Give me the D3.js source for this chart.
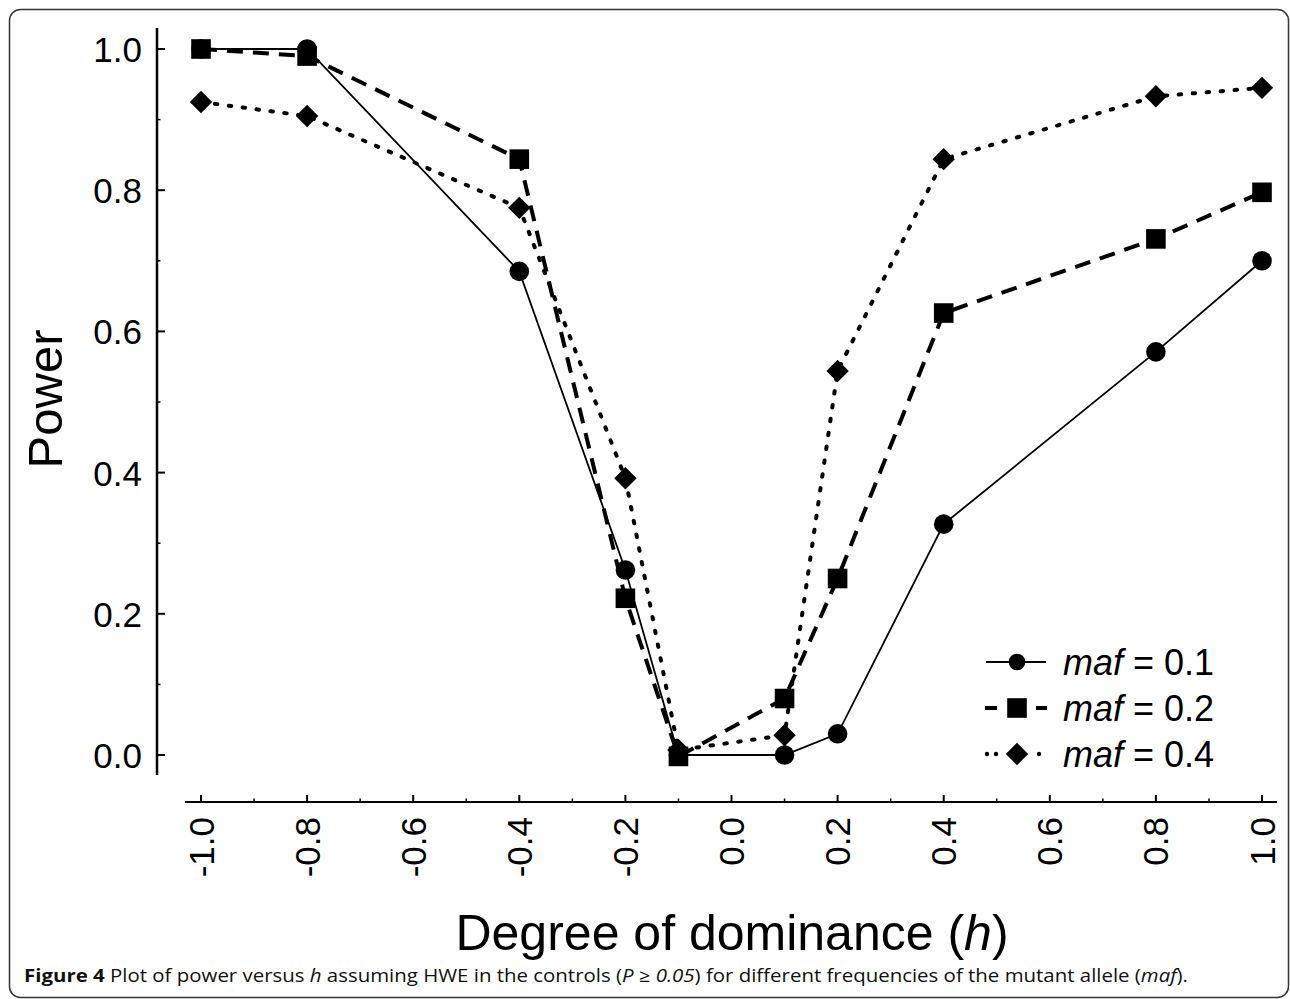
<!DOCTYPE html>
<html>
<head>
<meta charset="utf-8">
<script src="https://cdn.jsdelivr.net/npm/d3@7"></script>
<style>
  body { margin: 0; background: #fff; }
  svg { display: block; }
</style>
</head>
<body>
<div id="chart-area"></div>
<script>
// h values on the x axis
var hValues = [-1.0, -0.8, -0.4, -0.2, -0.1, 0.1, 0.2, 0.4, 0.8, 1.0];

// power for each minor allele frequency
var maf01 = [1.0, 1.0, 0.685, 0.262, 0.0, 0.0, 0.03, 0.327, 0.571, 0.70];
var maf02 = [1.0, 0.99, 0.844, 0.222, -0.002, 0.08, 0.25, 0.626, 0.731, 0.797];
var maf04 = [0.925, 0.905, 0.775, 0.392, 0.007, 0.028, 0.544, 0.844, 0.933, 0.945];

var seriesNames = ["0.1", "0.2", "0.4"];
var xTicks = [-1.0, -0.8, -0.6, -0.4, -0.2, 0.0, 0.2, 0.4, 0.6, 0.8, 1.0];
var yTicks = [0.0, 0.2, 0.4, 0.6, 0.8, 1.0];

var W = 1290, H = 999;

var svg = d3.select("#chart-area")
  .append("svg")
  .attr("width", W)
  .attr("height", H);

// outer frame
svg.append("rect")
  .attr("x", 9.5).attr("y", 9.5)
  .attr("width", 1279).attr("height", 988)
  .attr("rx", 11)
  .attr("fill", "none")
  .attr("stroke", "#333")
  .attr("stroke-width", 1.5);

// scales
var x = d3.scaleLinear().domain([-1, 1]).range([201, 1262]);
var y = d3.scaleLinear().domain([0, 1]).range([755, 49]);

var axisFont = "Liberation Sans, Arial, sans-serif";

// y axis
var yAxisX = 157;
svg.append("line")
  .attr("x1", yAxisX).attr("x2", yAxisX)
  .attr("y1", 28).attr("y2", 775)
  .attr("stroke", "#000").attr("stroke-width", 2.5);

var yMinor = d3.range(0.1, 1.0, 0.2);
svg.selectAll(".ytick")
  .data(yTicks).enter().append("line")
  .attr("x1", yAxisX).attr("x2", yAxisX + 8)
  .attr("y1", function(d) { return y(d); })
  .attr("y2", function(d) { return y(d); })
  .attr("stroke", "#000").attr("stroke-width", 2);
svg.selectAll(".yminor")
  .data(yMinor).enter().append("line")
  .attr("x1", yAxisX).attr("x2", yAxisX + 3.5)
  .attr("y1", function(d) { return y(d); })
  .attr("y2", function(d) { return y(d); })
  .attr("stroke", "#000").attr("stroke-width", 1.5);
svg.selectAll(".ylabel")
  .data(yTicks).enter().append("text")
  .attr("x", 142)
  .attr("y", function(d) { return y(d) + 13; })
  .attr("text-anchor", "end")
  .style("font-family", axisFont)
  .style("font-size", "35px")
  .text(function(d) { return d.toFixed(1); });

// x axis
var xAxisY = 802;
svg.append("line")
  .attr("x1", 185).attr("x2", 1277)
  .attr("y1", xAxisY).attr("y2", xAxisY)
  .attr("stroke", "#000").attr("stroke-width", 2);
var xMinor = d3.range(-0.9, 1.0, 0.2);
svg.selectAll(".xtick")
  .data(xTicks).enter().append("line")
  .attr("x1", function(d) { return x(d); })
  .attr("x2", function(d) { return x(d); })
  .attr("y1", xAxisY).attr("y2", xAxisY - 7)
  .attr("stroke", "#000").attr("stroke-width", 2);
svg.selectAll(".xminor")
  .data(xMinor).enter().append("line")
  .attr("x1", function(d) { return x(d); })
  .attr("x2", function(d) { return x(d); })
  .attr("y1", xAxisY).attr("y2", xAxisY - 3.5)
  .attr("stroke", "#000").attr("stroke-width", 1.5);
svg.selectAll(".xlabel")
  .data(xTicks).enter().append("text")
  .attr("transform", function(d) {
    return "translate(" + (x(d) + 12.5) + "," + 817 + ") rotate(-90)";
  })
  .attr("text-anchor", "end")
  .style("font-family", axisFont)
  .style("font-size", "35px")
  .text(function(d) { return d.toFixed(1); });

// axis titles
svg.append("text")
  .attr("transform", "translate(62,399) rotate(-90)")
  .attr("text-anchor", "middle")
  .style("font-family", axisFont)
  .style("font-size", "49px")
  .text("Power");

var xt = svg.append("text")
  .attr("x", 732).attr("y", 950)
  .attr("text-anchor", "middle")
  .style("font-family", axisFont)
  .style("font-size", "50px");
xt.append("tspan").text("Degree of dominance (");
xt.append("tspan").style("font-style", "italic").text("h");
xt.append("tspan").text(")");

// series
var series = [
  { name: seriesNames[0], values: maf01, dash: null, width: 1.8, shape: "circle" },
  { name: seriesNames[1], values: maf02, dash: "16,10", width: 4, shape: "square" },
  { name: seriesNames[2], values: maf04, dash: "2.5,11.5", width: 4, shape: "diamond" }
];

var line = d3.line()
  .x(function(d) { return x(d.h); })
  .y(function(d) { return y(d.p); });

function drawMarker(g, shape, cx, cy, s) {
  s = s || 1;
  if (shape === "circle") {
    g.append("circle").attr("cx", cx).attr("cy", cy).attr("r", 9.8 * s).attr("fill", "#000");
  } else if (shape === "square") {
    var a = 9.8 * s;
    g.append("rect").attr("x", cx - a).attr("y", cy - a)
      .attr("width", 2 * a).attr("height", 2 * a).attr("fill", "#000");
  } else {
    var r = 11.2 * s;
    g.append("path")
      .attr("d", "M" + cx + "," + (cy - r) + "L" + (cx + r) + "," + cy +
        "L" + cx + "," + (cy + r) + "L" + (cx - r) + "," + cy + "Z")
      .attr("fill", "#000");
  }
}

// draw lines first, then markers
series.slice().reverse().forEach(function(s) {
  var pts = hValues.map(function(h, i) { return { h: h, p: s.values[i] }; });
  svg.append("path")
    .datum(pts)
    .attr("d", line)
    .attr("fill", "none")
    .attr("stroke", "#000")
    .attr("stroke-width", s.width)
    .attr("stroke-linecap", s.shape === "diamond" ? "round" : "butt")
    .attr("stroke-dasharray", s.dash);
});
series.slice().reverse().forEach(function(s) {
  var g = svg.append("g");
  hValues.forEach(function(h, i) {
    drawMarker(g, s.shape, x(h), y(s.values[i]));
  });
});

// legend
var legRows = [662, 708, 754];
series.forEach(function(s, i) {
  var ly = legRows[i];
  var g = svg.append("g");
  if (s.shape === "circle") {
    g.append("line")
      .attr("x1", 986).attr("x2", 1046)
      .attr("y1", ly).attr("y2", ly)
      .attr("stroke", "#000").attr("stroke-width", 1.8);
  } else if (s.shape === "square") {
    [[985, 997], [1036, 1047]].forEach(function(seg) {
      g.append("line")
        .attr("x1", seg[0]).attr("x2", seg[1])
        .attr("y1", ly).attr("y2", ly)
        .attr("stroke", "#000").attr("stroke-width", 4);
    });
  } else {
    [987, 996, 1039].forEach(function(dx) {
      g.append("circle").attr("cx", dx).attr("cy", ly).attr("r", 2.2).attr("fill", "#000");
    });
  }
  drawMarker(g, s.shape, 1017, ly, s.shape === "circle" ? 0.85 : 1);
  var t = g.append("text")
    .attr("x", 1063).attr("y", ly + 13)
    .style("font-family", axisFont)
    .style("font-size", "36px");
  t.append("tspan").style("font-style", "italic").text("maf");
  t.append("tspan").text(" = " + s.name);
});

// caption
var cap = svg.append("text")
  .attr("x", 24).attr("y", 982)
  .style("font-family", "Open Sans, sans-serif")
  .style("font-size", "18px")
  .attr("fill", "#111")
  .attr("textLength", 1164)
  .attr("lengthAdjust", "spacingAndGlyphs");
cap.append("tspan").style("font-weight", "bold").text("Figure 4 ");
cap.append("tspan").text("Plot of power versus ");
cap.append("tspan").style("font-style", "italic").text("h");
cap.append("tspan").text(" assuming HWE in the controls (");
cap.append("tspan").style("font-style", "italic").text("P \u2265 0.05");
cap.append("tspan").text(") for different frequencies of the mutant allele (");
cap.append("tspan").style("font-style", "italic").text("maf");
cap.append("tspan").text(").");
</script>
</body>
</html>
